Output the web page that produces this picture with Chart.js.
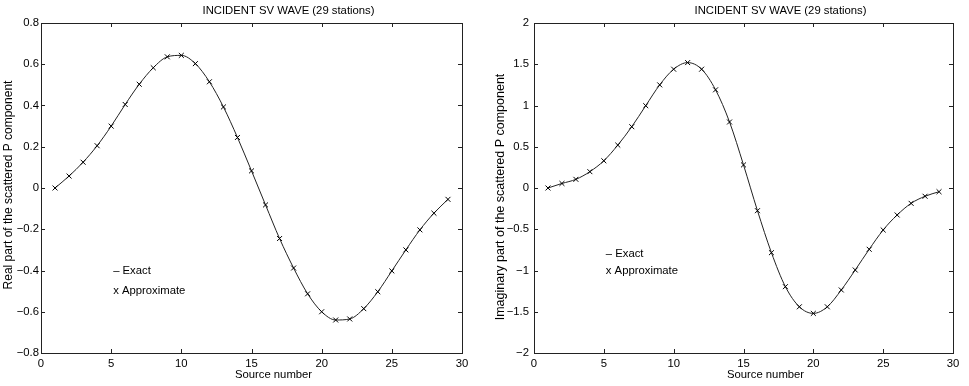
<!DOCTYPE html>
<html>
<head>
<meta charset="utf-8">
<script src="https://cdn.jsdelivr.net/npm/chart.js@4.4.1/dist/chart.umd.min.js"></script>
<style>
  html, body { margin: 0; padding: 0; background: #fff; }
  #wrap { position: relative; width: 969px; height: 386px; }
  #box1 { position: absolute; left: 0; top: 0; width: 480px; height: 386px; }
  #box2 { position: absolute; left: 480px; top: 0; width: 489px; height: 386px; }
</style>
</head>
<body>
<div id="wrap">
  <div id="box1"><canvas id="c1" width="480" height="386"></canvas></div>
  <div id="box2"><canvas id="c2" width="489" height="386"></canvas></div>
</div>
<script>
// source numbers (stations)
var sources = [];
for (var s = 1; s <= 29; s++) sources.push(s);

// real part
var realVals = [0, 0.058, 0.125, 0.205, 0.300, 0.405, 0.503, 0.583, 0.636, 0.643,
  0.603, 0.515, 0.393, 0.245, 0.083, -0.082, -0.245, -0.388, -0.513, -0.600,
  -0.640, -0.635, -0.585, -0.503, -0.402, -0.300, -0.203, -0.122, -0.055];

// imaginary part
var imagVals = [0, 0.055, 0.105, 0.198, 0.330, 0.520, 0.743, 0.998, 1.250, 1.440,
  1.520, 1.440, 1.190, 0.800, 0.280, -0.275, -0.784, -1.196, -1.440, -1.520,
  -1.440, -1.236, -0.994, -0.743, -0.509, -0.327, -0.186, -0.100, -0.045];

var xTicks = [0, 5, 10, 15, 20, 25, 30];
var titleText = "INCIDENT SV WAVE (29 stations)";
var xLabel = "Source number";
var FONT = "'Liberation Sans', Arial, Helvetica, sans-serif";

function fmt(v) {
  var r = Math.round(v * 10) / 10;
  return String(r).replace('-', '\u2212');
}

function pts(vals) {
  return sources.map(function (x, i) { return { x: x, y: vals[i] }; });
}

// box, inward ticks, titles and the text legend (matlab style)
var matlabBox = {
  id: 'matlabBox',
  afterDraw: function (chart, args, o) {
    var ctx = chart.ctx, a = chart.chartArea;
    var xs = chart.scales.x, ys = chart.scales.y;
    var cx = (a.left + a.right) / 2, cy = (a.top + a.bottom) / 2;
    ctx.save();
    ctx.strokeStyle = '#222';
    ctx.lineWidth = 1;
    ctx.strokeRect(Math.round(a.left) + 0.5, Math.round(a.top) + 0.5,
      Math.round(a.right - a.left), Math.round(a.bottom - a.top));
    ctx.beginPath();
    xs.ticks.forEach(function (t) {
      var px = Math.round(xs.getPixelForValue(t.value)) + 0.5;
      ctx.moveTo(px, a.bottom); ctx.lineTo(px, a.bottom - 4);
      ctx.moveTo(px, a.top); ctx.lineTo(px, a.top + 4);
    });
    ys.ticks.forEach(function (t) {
      var py = Math.round(ys.getPixelForValue(t.value)) + 0.5;
      ctx.moveTo(a.left, py); ctx.lineTo(a.left + 4, py);
      ctx.moveTo(a.right, py); ctx.lineTo(a.right - 4, py);
    });
    ctx.stroke();

    ctx.fillStyle = '#000';
    ctx.textAlign = 'center';
    ctx.textBaseline = 'middle';
    ctx.font = '11.3px ' + FONT;
    ctx.fillText(titleText, cx + 37, 11);
    ctx.fillText(xLabel, cx + 22, 375);

    ctx.save();
    ctx.translate(o.yLabelX, cy + o.yLabelShift);
    ctx.rotate(-Math.PI / 2);
    ctx.font = o.yLabelSize + 'px ' + FONT;
    ctx.fillText(o.yLabel, 0, 0);
    ctx.restore();

    ctx.font = '11.3px ' + FONT;
    ctx.textAlign = 'left';
    ctx.fillText('\u2013 Exact', xs.getPixelForValue(5) + 2, ys.getPixelForValue(o.exactY));
    ctx.fillText('x Approximate', xs.getPixelForValue(5) + 2, ys.getPixelForValue(o.approxY));
    ctx.restore();
  }
};

function makeChart(id, vals, yMin, yMax, yStep, yWidth, rightPad, tickPad, extra) {
  return new Chart(document.getElementById(id), {
    type: 'scatter',
    data: {
      datasets: [{
        label: 'Exact',
        data: pts(vals),
        showLine: true,
        borderColor: '#222',
        borderWidth: 1,
        pointRadius: 0,
        cubicInterpolationMode: 'monotone',
        order: 2
      }, {
        label: 'Approximate',
        data: pts(vals),
        showLine: false,
        pointStyle: 'crossRot',
        pointRadius: 3.5,
        borderColor: '#000',
        borderWidth: 1,
        order: 1
      }]
    },
    options: {
      responsive: false,
      animation: false,
      layout: { padding: { top: 23, right: rightPad, left: 0, bottom: 0 } },
      plugins: {
        legend: { display: false },
        tooltip: { enabled: false },
        matlabBox: extra
      },
      scales: {
        x: {
          type: 'linear', min: 0, max: 30,
          afterBuildTicks: function (sc) { sc.ticks = xTicks.map(function (v) { return { value: v }; }); },
          afterFit: function (sc) { sc.height = 33; },
          grid: { display: false, drawTicks: false },
          border: { display: false },
          ticks: { color: '#000', padding: 4, font: { family: FONT, size: 11.3 } }
        },
        y: {
          min: yMin, max: yMax,
          afterFit: function (sc) { sc.width = yWidth; },
          grid: { display: false, drawTicks: false },
          border: { display: false },
          ticks: { stepSize: yStep, color: '#000', padding: tickPad, font: { family: FONT, size: 11.3 }, callback: fmt }
        }
      }
    },
    plugins: [matlabBox]
  });
}

makeChart('c1', realVals, -0.8, 0.8, 0.2, 41, 18, 2, {
  yLabel: 'Real part of the scattered P component', yLabelX: 9, yLabelShift: -3, yLabelSize: 12,
  exactY: -0.4, approxY: -0.5
});
makeChart('c2', imagVals, -2, 2, 0.5, 54, 16, 5, {
  yLabel: 'Imaginary part of the scattered P component', yLabelX: 21, yLabelShift: 9, yLabelSize: 12.5,
  exactY: -0.8, approxY: -1.0
});
</script>
</body>
</html>
